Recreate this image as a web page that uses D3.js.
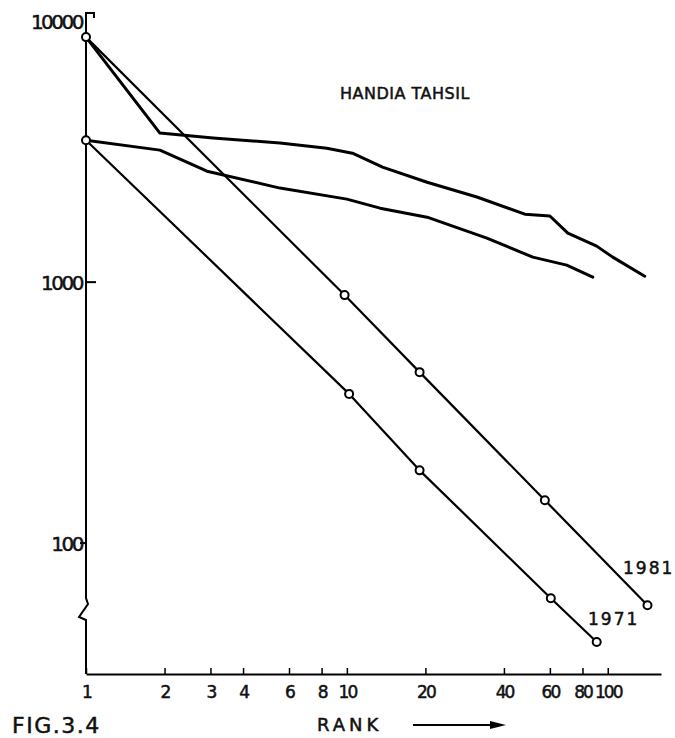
<!DOCTYPE html>
<meta charset="utf-8">
<script src="https://d3js.org/d3.v7.min.js"></script>
<style>
  body { margin: 0; background: #fff; }
  text { font-family: "DejaVu Sans", sans-serif; fill: #111; stroke: #111; stroke-width: 0.5px; }
</style>
<div id="my_dataviz"></div>
<script>

// rank-size values
var xTicks = [1, 2, 3, 4, 6, 8, 10, 20, 40, 60, 80, 100];
var yTicks = [100, 1000, 10000];

// fitted lines (with circle markers)
var fitRank1981 = [1, 9.8, 19, 57.4, 142];
var fitPop1981  = [8690, 892, 452, 146, 57.8];
var fitRank1971 = [1, 10.2, 19, 60.5, 90.7];
var fitPop1971  = [3500, 373, 190, 61.5, 41.8];

// observed lines
var obsRank1981 = [1, 1.92, 3.07, 5.54, 8.38, 10.5, 13.7, 20.3, 31.5, 48.1, 60, 70.3, 90.7, 104.5, 138.6];
var obsPop1981  = [8690, 3725, 3566, 3412, 3260, 3120, 2760, 2415, 2120, 1822, 1792, 1541, 1374, 1247, 1054];
var obsRank1971 = [1, 1.92, 2.91, 5.54, 10, 13.4, 20.3, 34.4, 51.6, 69.6, 87.6];
var obsPop1971  = [3500, 3206, 2662, 2293, 2080, 1921, 1774, 1474, 1247, 1162, 1045];

var width = 675, height = 738;

var svg = d3.select("#my_dataviz")
  .append("svg")
    .attr("width", width)
    .attr("height", height);

var x = d3.scaleLog().domain([1, 160]).range([86, 661]);
var y = d3.scaleLog().domain([31.5, 10750]).range([674, 13]);

// X axis
var xAxis = svg.append("g")
  .attr("transform", "translate(0," + y(31.5) + ")")
  .call(d3.axisBottom(x).tickValues(xTicks).tickFormat(d3.format("d"))
        .tickSize(-6).tickSizeOuter(0).tickPadding(12));
xAxis.select(".domain").attr("stroke-width", 2);
xAxis.selectAll(".tick line").attr("stroke-width", 1.5);
xAxis.selectAll("text").style("font-size", "17px").attr("letter-spacing", -2).attr("font-family", null);

// Y axis line with break mark and top bracket
var y0 = y(31.5), yTop = y(10750);
svg.append("path")
  .attr("d", "M86," + y0 + "V620L79,617L88,604L86,598V" + yTop + "H94V" + (yTop + 5))
  .attr("fill", "none").attr("stroke", "#000").attr("stroke-width", 2);

svg.append("line").attr("x1", 86).attr("x2", 96)
  .attr("y1", y(1000)).attr("y2", y(1000)).attr("stroke", "#000").attr("stroke-width", 2);
svg.append("line").attr("x1", 80).attr("x2", 86)
  .attr("y1", y(100)).attr("y2", y(100)).attr("stroke", "#000").attr("stroke-width", 2);

var yAxis = svg.append("g")
  .attr("transform", "translate(86,0)")
  .call(d3.axisLeft(y).tickValues(yTicks).tickFormat(d3.format("d")).tickSize(0).tickPadding(4));
yAxis.select(".domain").remove();
yAxis.selectAll("text").style("font-size", "20px").attr("letter-spacing", -2.5)
  .attr("dy", "0.38em").attr("font-family", null);

// lines
var line = d3.line().x(function(d) { return x(d[0]); }).y(function(d) { return y(d[1]); });

function draw(ranks, pops, w, markers) {
  var pts = d3.zip(ranks, pops);
  svg.append("path").datum(pts)
    .attr("d", line)
    .attr("fill", "none").attr("stroke", "#000")
    .attr("stroke-width", w).attr("stroke-linejoin", "round").attr("stroke-linecap", "round");
  if (markers) {
    svg.append("g").selectAll("circle").data(pts).enter().append("circle")
      .attr("cx", function(d) { return x(d[0]); })
      .attr("cy", function(d) { return y(d[1]); })
      .attr("r", 4)
      .attr("fill", "#fff").attr("stroke", "#000").attr("stroke-width", 2);
  }
}

draw(obsRank1981, obsPop1981, 3, false);
draw(obsRank1971, obsPop1971, 3, false);
draw(fitRank1981, fitPop1981, 2.2, true);
draw(fitRank1971, fitPop1971, 2.2, true);

// annotations
svg.append("text").attr("x", 340).attr("y", 99)
  .style("font-size", "16px").attr("letter-spacing", 0.5)
  .text("HANDIA TAHSIL");

svg.append("text").attr("x", 623).attr("y", 574)
  .style("font-size", "17px").attr("letter-spacing", 2).text("1981");
svg.append("text").attr("x", 588).attr("y", 625)
  .style("font-size", "17px").attr("letter-spacing", 2).text("1971");

svg.append("text").attr("x", 12).attr("y", 733)
  .style("font-size", "22px").attr("letter-spacing", 1.5).text("FIG.3.4");

svg.append("text").attr("x", 317).attr("y", 731)
  .style("font-size", "18px").attr("letter-spacing", 4).text("RANK");

// arrow
svg.append("line").attr("x1", 413).attr("x2", 492).attr("y1", 725).attr("y2", 725)
  .attr("stroke", "#000").attr("stroke-width", 2);
svg.append("path").attr("d", "M490,721L506,725L490,729Z").attr("fill", "#000");

</script>
